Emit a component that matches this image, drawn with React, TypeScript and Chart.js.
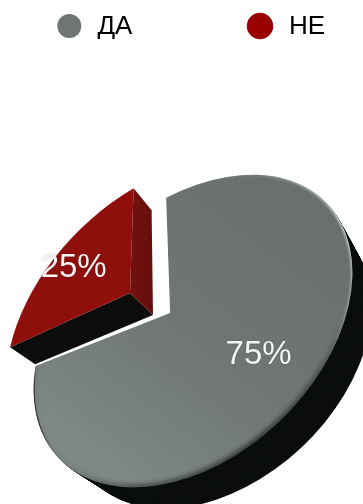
import React, { useEffect, useRef } from "react";
import { Chart, registerables } from "chart.js";

Chart.register(...registerables);

const categories = ["ДА", "НЕ"];
const shares = [75, 25];
const sliceColors = ["#6f7573", "#990000"];

const DEG = Math.PI / 180;
const SANS = '"Liberation Sans", Arial, sans-serif';

// The flat pie is sheared onto this ellipse to give it a tilted, 3D look.
const tilt = { cx: 193, cy: 331, major: 185, minor: 125, angle: -43.5 };

// Per-slice geometry in the unit space of the tilted disc.
const greyShape = { apex: [-0.023, -0.23], centre: [0, 0], radius: 1, spread: 1, label: 0.762, labelDrop: -1.5 };
const redShape = { apex: [-0.106, -0.567], centre: [-0.044, -0.162], radius: 1.05, spread: 1.08, label: 0.485, labelDrop: 2 };
const sliceShapes = [greyShape, redShape];

// The grey body recedes slightly as it drops, the red wedge keeps straight walls.
const greyDepth = { dx: 28, dy: 30, scale: 0.945 };
const redDepth = { apex: [23, 22], tip: [18, 22], foot: [25, 17] };

const cosT = Math.cos(tilt.angle * DEG);
const sinT = Math.sin(tilt.angle * DEG);
const M = {
  a: tilt.major * cosT,
  b: tilt.major * sinT,
  c: -tilt.minor * sinT,
  d: tilt.minor * cosT,
  e: tilt.cx,
  f: tilt.cy,
};
const toScreen = (p: number[]) => [M.a * p[0] + M.c * p[1] + M.e, M.b * p[0] + M.d * p[1] + M.f];

// Where a ray leaving the apex meets the slice's outer circle.
function hitCircle(apex: number[], centre: number[], r: number, ang: number) {
  const dx = Math.cos(ang);
  const dy = Math.sin(ang);
  const ox = apex[0] - centre[0];
  const oy = apex[1] - centre[1];
  const b = ox * dx + oy * dy;
  const t = -b + Math.sqrt(Math.max(0, b * b - (ox * ox + oy * oy - r * r)));
  return [apex[0] + t * dx, apex[1] + t * dy];
}

function sliceGeometry(el: any, i: number) {
  const s = sliceShapes[i];
  const mid = (el.startAngle + el.endAngle) / 2;
  const half = ((el.endAngle - el.startAngle) / 2) * s.spread;
  const p0 = hitCircle(s.apex, s.centre, s.radius, mid - half);
  const p1 = hitCircle(s.apex, s.centre, s.radius, mid + half);
  const a0 = Math.atan2(p0[1] - s.centre[1], p0[0] - s.centre[0]);
  const a1 = Math.atan2(p1[1] - s.centre[1], p1[0] - s.centre[0]);
  return { s, mid, p0, p1, a0, a1 };
}

function traceSlice(ctx: CanvasRenderingContext2D, g: any, dx = 0, dy = 0, k = 1) {
  ctx.setTransform(M.a * k, M.b * k, M.c * k, M.d * k, M.e + dx, M.f + dy);
  ctx.beginPath();
  ctx.moveTo(g.s.apex[0], g.s.apex[1]);
  ctx.arc(g.s.centre[0], g.s.centre[1], g.s.radius, g.a0, g.a1);
  ctx.closePath();
  ctx.setTransform(1, 0, 0, 1, 0, 0);
}

function drawGreyBody(ctx: CanvasRenderingContext2D, g: any) {
  const steps = 42;
  ctx.fillStyle = "#0b0e0d";
  for (let n = steps; n >= 1; n--) {
    const t = n / steps;
    traceSlice(ctx, g, greyDepth.dx * t, greyDepth.dy * t, 1 - (1 - greyDepth.scale) * t);
    ctx.fill();
  }
}

function strokeRim(ctx: CanvasRenderingContext2D, g: any, color: any, width: number, blur: number) {
  ctx.filter = `blur(${blur}px)`;
  ctx.setTransform(M.a, M.b, M.c, M.d, M.e, M.f);
  ctx.beginPath();
  ctx.arc(g.s.centre[0], g.s.centre[1], g.s.radius, g.a0, g.a1);
  ctx.setTransform(1, 0, 0, 1, 0, 0);
  ctx.strokeStyle = color;
  ctx.lineWidth = width;
  ctx.stroke();
}

function drawGreyFace(ctx: CanvasRenderingContext2D, g: any) {
  const grad = ctx.createLinearGradient(300, 180, 90, 460);
  grad.addColorStop(0, "#686f6d");
  grad.addColorStop(0.55, "#6f7674");
  grad.addColorStop(1, "#7e8885");
  traceSlice(ctx, g);
  ctx.fillStyle = grad;
  ctx.fill();

  // Soft shade along the lower rim, a thin dark line on the left and a glint at the upper right.
  const shade = (ctx as any).createConicGradient(-Math.PI / 2, tilt.cx, tilt.cy);
  shade.addColorStop(0, "rgba(15,20,18,0)");
  shade.addColorStop(0.24, "rgba(15,20,18,0)");
  shade.addColorStop(0.3, "rgba(15,20,18,0.5)");
  shade.addColorStop(0.42, "rgba(15,20,18,0.8)");
  shade.addColorStop(0.56, "rgba(15,20,18,0.6)");
  shade.addColorStop(0.62, "rgba(15,20,18,0.05)");
  shade.addColorStop(1, "rgba(15,20,18,0)");
  const line = (ctx as any).createConicGradient(-Math.PI / 2, tilt.cx, tilt.cy);
  line.addColorStop(0, "rgba(10,12,11,0)");
  line.addColorStop(0.63, "rgba(10,12,11,0)");
  line.addColorStop(0.66, "rgba(10,12,11,0.8)");
  line.addColorStop(0.7, "rgba(10,12,11,0.7)");
  line.addColorStop(0.72, "rgba(10,12,11,0)");
  line.addColorStop(1, "rgba(10,12,11,0)");
  const glint = (ctx as any).createConicGradient(-Math.PI / 2, tilt.cx, tilt.cy);
  glint.addColorStop(0, "rgba(225,232,230,0)");
  glint.addColorStop(0.06, "rgba(225,232,230,0.15)");
  glint.addColorStop(0.15, "rgba(232,238,236,0.95)");
  glint.addColorStop(0.22, "rgba(225,232,230,0.5)");
  glint.addColorStop(0.27, "rgba(225,232,230,0)");
  glint.addColorStop(1, "rgba(225,232,230,0)");
  ctx.save();
  traceSlice(ctx, g);
  ctx.clip();
  strokeRim(ctx, g, shade, 5, 2.5);
  strokeRim(ctx, g, line, 2, 0.5);
  strokeRim(ctx, g, glint, 2.5, 0.8);
  ctx.restore();
}

function polygon(ctx: CanvasRenderingContext2D, pts: number[][], fill: any) {
  ctx.fillStyle = fill;
  ctx.beginPath();
  pts.forEach((p, i) => (i ? ctx.lineTo(p[0], p[1]) : ctx.moveTo(p[0], p[1])));
  ctx.closePath();
  ctx.fill();
}

const shift = (p: number[], d: number[]) => [p[0] + d[0], p[1] + d[1]];

function drawRedSlice(ctx: CanvasRenderingContext2D, g: any) {
  const apex = toScreen(g.s.apex);
  const foot = toScreen(g.p0);
  const tip = toScreen(g.p1);
  const apexLow = shift(apex, redDepth.apex);
  polygon(ctx, [apex, foot, shift(foot, redDepth.foot), apexLow], "#0b0c0b");
  const wall = ctx.createLinearGradient(apex[0], 0, apexLow[0], 0);
  wall.addColorStop(0, "#731210");
  wall.addColorStop(1, "#650e0b");
  polygon(ctx, [apex, tip, shift(tip, redDepth.tip), apexLow], wall);
  traceSlice(ctx, g);
  ctx.fillStyle = "#8e0f0c";
  ctx.fill();
}

// Replaces the flat arcs with the tilted, extruded slices.
const tiltedPie = {
  id: "tiltedPie",
  beforeDatasetsDraw(chart: any) {
    const ctx: CanvasRenderingContext2D = chart.ctx;
    const arcs = chart.getDatasetMeta(0).data;
    const geos = arcs.map((el: any, i: number) => sliceGeometry(el, i));
    ctx.save();
    drawGreyBody(ctx, geos[0]);
    drawGreyFace(ctx, geos[0]);
    drawRedSlice(ctx, geos[1]);

    ctx.font = `33px ${SANS}`;
    ctx.textAlign = "center";
    ctx.textBaseline = "middle";
    ctx.fillStyle = "#f4f4f4";
    ctx.shadowColor = "rgba(0,0,0,0.3)";
    ctx.shadowBlur = 1.5;
    chart.data.datasets[0].data.forEach((v: number, i: number) => {
      const g = geos[i];
      const pos = toScreen([
        g.s.apex[0] + Math.cos(g.mid) * g.s.label,
        g.s.apex[1] + Math.sin(g.mid) * g.s.label,
      ]);
      ctx.fillText(`${v}%`, pos[0], pos[1] + g.s.labelDrop);
    });
    ctx.restore();
    return false;
  },
  afterDraw(chart: any) {
    const ctx: CanvasRenderingContext2D = chart.ctx;
    const colors = chart.data.datasets[0].backgroundColor;
    const dots = [
      { x: 69.3, r: 12 },
      { x: 260, r: 13.2 },
    ];
    const textX = [97.5, 289];
    ctx.save();
    ctx.font = `26px ${SANS}`;
    ctx.textBaseline = "middle";
    ctx.textAlign = "left";
    chart.data.labels.forEach((label: string, i: number) => {
      ctx.beginPath();
      ctx.arc(dots[i].x, 26, dots[i].r, 0, Math.PI * 2);
      ctx.fillStyle = colors[i];
      ctx.fill();
      ctx.fillStyle = "#000000";
      ctx.fillText(label, textX[i], 27);
    });
    ctx.restore();
  },
};

export default function App() {
  const ref = useRef<HTMLCanvasElement | null>(null);

  useEffect(() => {
    if (!ref.current) return;
    const chart = new Chart(ref.current, {
      type: "pie",
      data: {
        labels: categories,
        datasets: [{ data: shares, backgroundColor: sliceColors, borderWidth: 0 }],
      },
      options: {
        animation: false,
        responsive: false,
        rotation: 30.9,
        events: [],
        plugins: { legend: { display: false }, tooltip: { enabled: false } },
      },
      plugins: [tiltedPie],
    } as any);
    return () => chart.destroy();
  }, []);

  return (
    <div style={{ position: "fixed", left: 0, top: 0, width: 363, height: 504, background: "#fff" }}>
      <canvas ref={ref} width={363} height={504} style={{ display: "block" }} />
    </div>
  );
}
